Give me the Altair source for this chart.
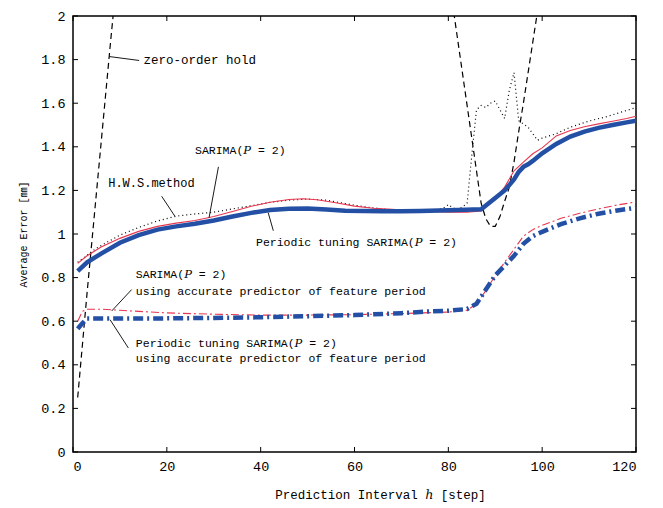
import altair as alt
import pandas as pd

# ---------------- data ----------------
zoh_h = [1, 2, 3, 4, 5, 6, 7, 8, 9, 10, 80, 81, 82, 83, 84, 85, 86, 87, 88, 89, 90,
         91, 92, 93, 94, 95, 96, 97, 98, 99, 100]
zoh_v = [0.25, 0.49, 0.73, 0.96, 1.19, 1.42, 1.65, 1.88, 2.1, 2.35, 2.2, 2.04, 1.89, 1.74,
         1.59, 1.44, 1.29, 1.14, 1.07, 1.035, 1.035, 1.08, 1.15, 1.215, 1.33, 1.47, 1.6,
         1.74, 1.88, 2.02, 2.16]

hws_h = [1, 5, 10, 14, 18, 22, 26, 30, 34, 38, 42, 46, 50, 54, 58, 62, 66, 70, 74, 77,
         79, 80, 81, 82, 83, 84, 85, 86, 87, 88, 89, 90, 91, 92, 93, 94, 95, 96, 97, 98,
         99, 100, 103, 106, 110, 114, 117, 120]
hws_v = [0.87, 0.935, 0.995, 1.03, 1.06, 1.082, 1.092, 1.1, 1.115, 1.13, 1.145, 1.155,
         1.16, 1.155, 1.14, 1.125, 1.115, 1.108, 1.105, 1.105, 1.12, 1.135, 1.12, 1.11,
         1.125, 1.14, 1.36, 1.57, 1.59, 1.58, 1.6, 1.61, 1.57, 1.53, 1.66, 1.74, 1.52,
         1.505, 1.49, 1.46, 1.43, 1.44, 1.46, 1.49, 1.518, 1.54, 1.56, 1.58]

sar_h = [1, 3, 6, 10, 14, 18, 22, 26, 30, 34, 38, 42, 46, 49, 52, 56, 60, 64, 68, 72,
         76, 80, 84, 87, 90, 92, 94, 96, 98, 100, 103, 106, 109, 112, 115, 118, 120]
sar_v = [0.865, 0.9, 0.94, 0.98, 1.012, 1.035, 1.05, 1.062, 1.08, 1.103, 1.127, 1.146,
         1.158, 1.162, 1.157, 1.143, 1.128, 1.118, 1.113, 1.108, 1.104, 1.1, 1.1, 1.106,
         1.165, 1.215, 1.29, 1.33, 1.368, 1.395, 1.45, 1.475, 1.492, 1.505, 1.517, 1.53,
         1.54]

pts_h = [1, 3, 6, 10, 14, 18, 22, 26, 30, 34, 38, 42, 46, 50, 54, 58, 62, 66, 70, 74,
         78, 82, 87, 90, 92, 94, 95, 96, 97, 98, 100, 103, 106, 109, 112, 115, 118, 120]
pts_v = [0.83, 0.87, 0.91, 0.96, 0.995, 1.02, 1.035, 1.047, 1.062, 1.08, 1.097, 1.11,
         1.116, 1.117, 1.112, 1.107, 1.105, 1.104, 1.104, 1.106, 1.108, 1.11, 1.113,
         1.165, 1.2, 1.25, 1.285, 1.308, 1.32, 1.335, 1.37, 1.413, 1.447, 1.47, 1.487,
         1.5, 1.512, 1.52]

sar_acc_h = [1, 2, 3, 6, 10, 20, 30, 40, 50, 60, 70, 80, 84, 86, 88, 90, 92, 94, 96, 98,
             100, 104, 108, 112, 116, 120]
sar_acc_v = [0.6, 0.645, 0.655, 0.655, 0.65, 0.638, 0.632, 0.628, 0.628, 0.63, 0.635,
             0.642, 0.65, 0.68, 0.74, 0.81, 0.87, 0.93, 0.99, 1.02, 1.04, 1.072, 1.095,
             1.115, 1.133, 1.147]

pts_acc_h = [1, 2, 3, 6, 10, 20, 30, 40, 50, 60, 70, 76, 80, 84, 86, 88, 90, 92, 94, 96,
             98, 100, 104, 108, 112, 116, 120]
pts_acc_v = [0.565, 0.59, 0.612, 0.612, 0.612, 0.613, 0.615, 0.618, 0.623, 0.628, 0.637,
             0.645, 0.648, 0.656, 0.68, 0.745, 0.81, 0.855, 0.9, 0.955, 0.99, 1.01, 1.045,
             1.072, 1.093, 1.108, 1.12]

x_ticks = [0, 20, 40, 60, 80, 100, 120]
y_ticks = [0, 0.2, 0.4, 0.6, 0.8, 1, 1.2, 1.4, 1.6, 1.8, 2]

# annotation texts (data coordinates)
label_text = ["zero-order hold", "SARIMA(𝑃 = 2)", "H.W.S.method",
              "Periodic tuning SARIMA(𝑃 = 2)",
              "SARIMA(𝑃 = 2)", "using accurate predictor of feature period",
              "Periodic tuning SARIMA(𝑃 = 2)", "using accurate predictor of feature period"]
label_h = [15.0, 26.0, 7.5, 39.0, 13.4, 13.4, 13.4, 13.4]
label_v = [1.80, 1.38, 1.236, 0.961, 0.812, 0.733, 0.497, 0.425]
label_size = [12.5, 11.5, 12, 11.5, 11.5, 11.5, 11.5, 11.5]

# leader lines
lead_h1 = [7.74, 31.0, 18.9, 41.6, 12.5, 7.9]
lead_v1 = [1.814, 1.308, 1.173, 1.098, 0.745, 0.607]
lead_h2 = [14.1, 29.0, 21.7, 42.7, 8.25, 11.8]
lead_v2 = [1.796, 1.075, 1.082, 1.015, 0.647, 0.477]

# ---------------- chart ----------------
W, H = 563, 436
FONT = "Liberation Mono, DejaVu Serif, Noto Sans CJK JP, DejaVu Sans"
RED = "#e8364f"
BLUE = "#2350a5"

xs = alt.Scale(domain=[0, 120], nice=False, zero=False)
ys = alt.Scale(domain=[0, 2], nice=False, zero=False)

x_axis = alt.Axis(values=x_ticks, tickSize=0, domain=False, grid=False,
                  labelFont=FONT, labelFontSize=13.5, labelPadding=7, labelColor="black",
                  title="Prediction Interval ℎ [step]", titleFont=FONT, titleFontSize=12.5,
                  titleFontWeight="normal", titleColor="black", titleX=307, titleY=42,
                  titleBaseline="middle", titleAlign="center")
y_axis = alt.Axis(values=y_ticks, tickSize=0, domain=False, grid=False, format=".1~f",
                  labelFont=FONT, labelFontSize=13.5, labelPadding=8, labelColor="black",
                  title="Average Error [㎜]", titleFont=FONT, titleFontSize=10,
                  titleFontWeight="normal", titleColor="black", titleAngle=270,
                  titleX=-50, titleY=H / 2, titleBaseline="middle", titleAlign="center")


def X(field):
    return alt.X(field, scale=xs, axis=x_axis)


def Y(field):
    return alt.Y(field, scale=ys, axis=y_axis)


def line(hs, vs, color, width, dash=None):
    df = pd.DataFrame({"h": hs, "v": vs})
    kw = dict(color=color, strokeWidth=width, clip=True)
    if dash:
        kw["strokeDash"] = dash
    return alt.Chart(df).mark_line(**kw).encode(x=X("h:Q"), y=Y("v:Q"))


xt = pd.DataFrame({"t": x_ticks})
yt = pd.DataFrame({"t": y_ticks})
tick_style = dict(color="black", strokeWidth=1)
ticks = [
    alt.Chart(xt).mark_rule(**tick_style).encode(
        x=X("t:Q"), y=alt.value(H), y2=alt.value(H - 5)),
    alt.Chart(xt).mark_rule(**tick_style).encode(
        x=X("t:Q"), y=alt.value(0), y2=alt.value(5)),
    alt.Chart(yt).mark_rule(**tick_style).encode(
        y=Y("t:Q"), x=alt.value(0), x2=alt.value(5)),
    alt.Chart(yt).mark_rule(**tick_style).encode(
        y=Y("t:Q"), x=alt.value(W - 5), x2=alt.value(W)),
]

lines = [
    line(zoh_h, zoh_v, "black", 1.2, [6, 4]),
    line(hws_h, hws_v, "black", 1.2, [1, 3]),
    line(sar_h, sar_v, RED, 1.1),
    line(pts_h, pts_v, BLUE, 4.5),
    line(sar_acc_h, sar_acc_v, RED, 1.1, [8, 3, 2, 3]),
    line(pts_acc_h, pts_acc_v, BLUE, 4.5, [10, 4, 2, 4]),
]

lead_df = pd.DataFrame({"h": lead_h1, "v": lead_v1, "h2": lead_h2, "v2": lead_v2})
leaders = alt.Chart(lead_df).mark_rule(color="black", strokeWidth=0.9).encode(
    x=X("h:Q"), y=Y("v:Q"), x2="h2:Q", y2="v2:Q")

lab_df = pd.DataFrame({"h": label_h, "v": label_v, "t": label_text, "s": label_size})
labels = alt.Chart(lab_df).mark_text(align="left", baseline="middle", font=FONT,
                                     color="black").encode(
    x=X("h:Q"), y=Y("v:Q"),
    text="t:N", size=alt.Size("s:Q", scale=None, legend=None))

chart = alt.layer(*lines, *ticks, leaders, labels).properties(
    width=W, height=H,
    autosize=alt.AutoSizeParams(type="none"),
    padding={"left": 65, "top": 8, "right": 12, "bottom": 52},
    background="white",
).configure_view(stroke="black", strokeWidth=1.5)

chart.save("out.html", embed_options={"renderer": "svg", "actions": False})
